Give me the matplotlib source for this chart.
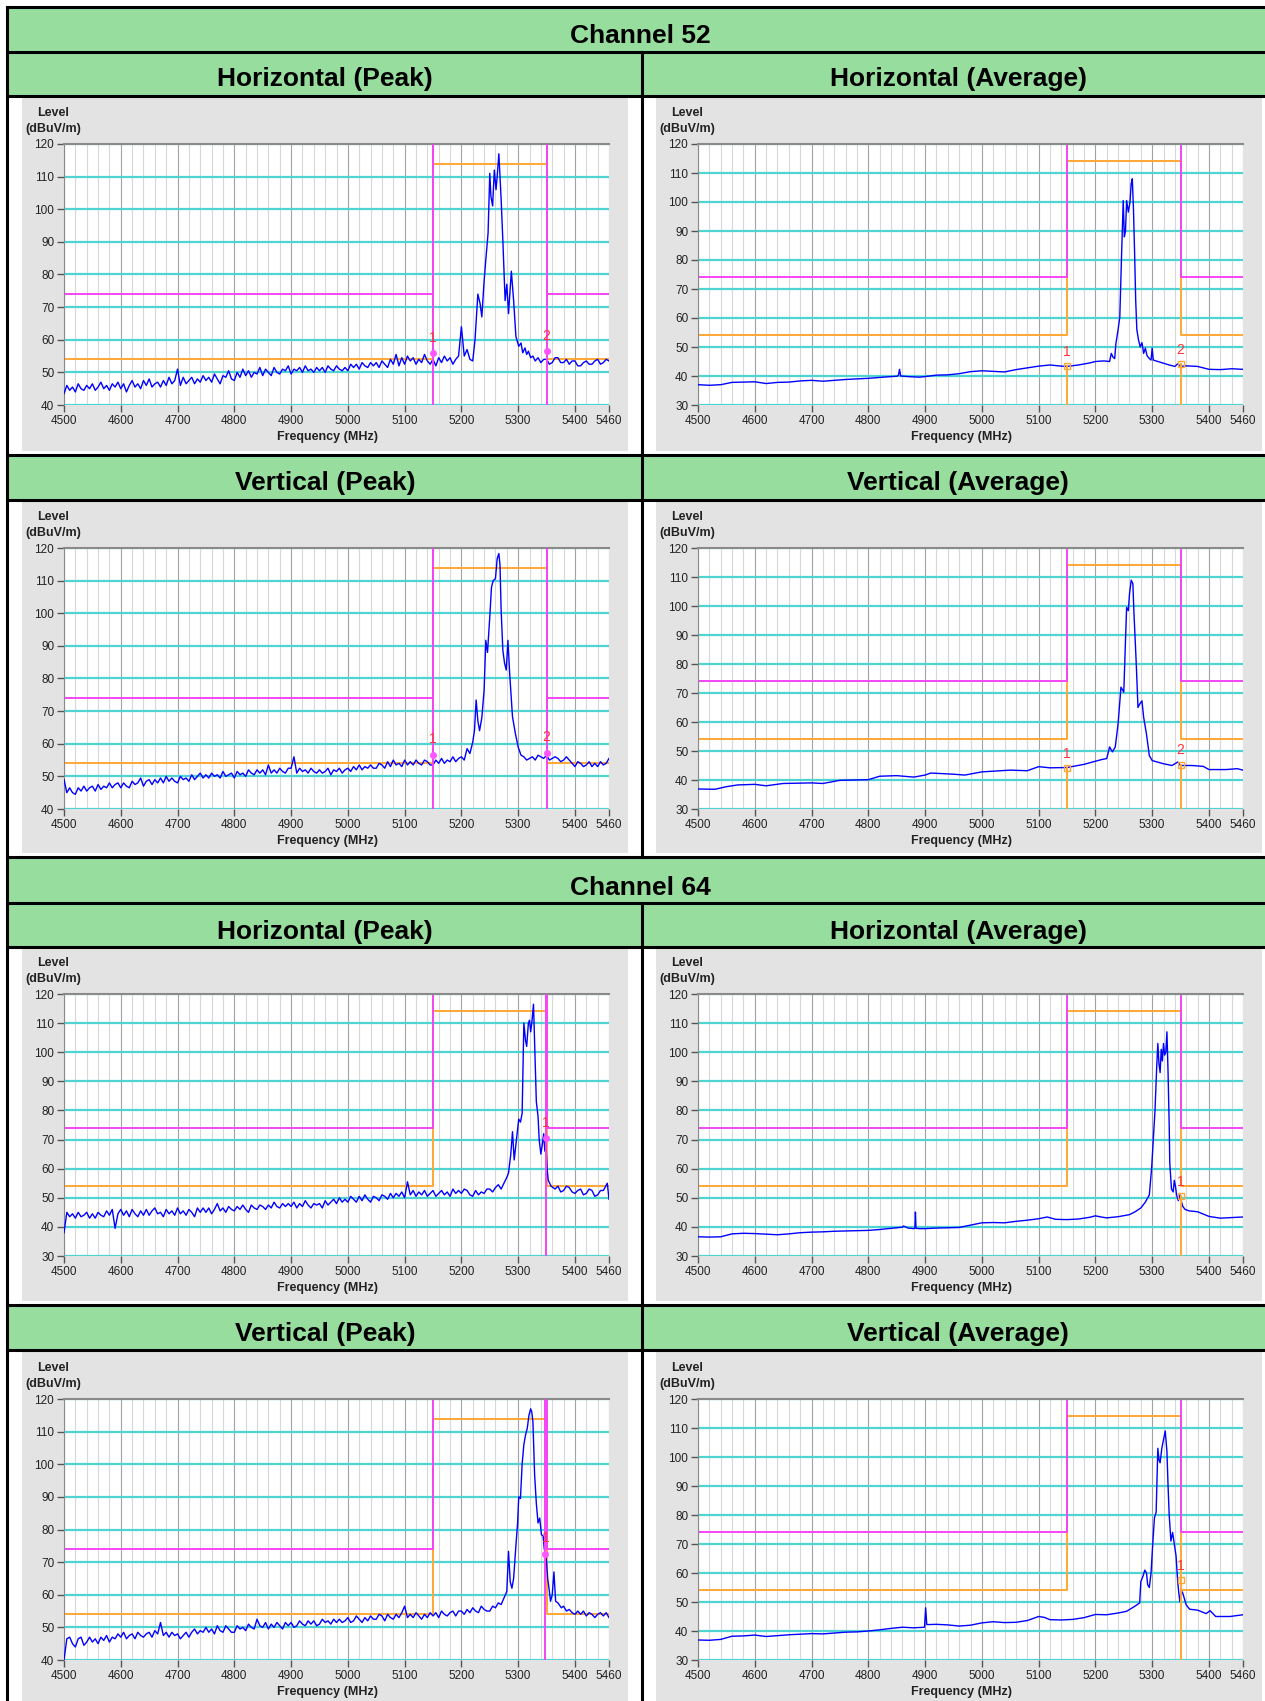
import matplotlib.pyplot as plt
from matplotlib.patches import Rectangle

plt.rcParams['font.family'] = ['Liberation Sans', 'DejaVu Sans']

W, H = 1265, 1701

# baseline of the peak sweeps is read every 5 MHz, the emission itself finer
base_f = list(range(4500, 5200, 5))

# Channel 52, horizontal, peak detector
ch52_h_pk_f = base_f + [5200, 5205, 5210, 5215, 5220, 5224, 5229, 5233, 5236, 5240, 5243, 5247, 5250, 5252,
                        5255, 5258, 5261, 5263, 5266, 5268, 5270, 5273, 5277, 5280, 5283, 5288, 5292, 5296,
                        5301, 5305, 5308, 5312, 5315, 5318, 5322, 5326, 5330, 5335, 5340, 5345, 5350, 5355,
                        5360, 5365, 5370, 5375, 5380, 5385, 5390, 5395, 5400, 5405, 5410, 5415, 5420, 5425,
                        5430, 5435, 5440, 5445, 5450, 5455, 5460]
ch52_h_pk_l = [43.5, 46, 44.5, 45.5, 44, 46.5, 45, 44.5, 46, 45,
               46.5, 44.5, 45.5, 47, 45, 46, 44.5, 46.5, 45.5, 47,
               45, 46.5, 44, 46, 47.5, 45.5, 46.5, 45, 47.5, 46,
               48, 45.5, 46.5, 47, 45.5, 47.5, 46, 48.5, 46.5, 47.5,
               51, 46, 48.5, 46.5, 47.5, 48.5, 46.5, 48, 47, 49,
               47.5, 48.5, 47, 49.5, 48, 46.5, 49, 48.5, 50.5, 48,
               47.5, 50, 48.5, 51, 49, 50.5, 48.5, 50, 49.5, 51.5,
               49, 51, 50, 49, 51.5, 50, 49.5, 51, 50.5, 52,
               49.5, 51, 50.5, 51.5, 50, 52, 50.5, 51, 50, 51.5,
               50.5, 51.5, 50, 52, 51, 50.5, 52, 51, 50.5, 51.5,
               50.5, 52.5, 51.5, 52.5, 51, 53, 52, 51.5, 53, 52,
               53, 51.5, 53.5, 52.5, 51.5, 54, 52.5, 55.5, 52, 54.5,
               52.5, 55, 53.5, 54.5, 52.5, 54, 53, 55.5, 53.5, 52.5,
               54, 52, 54.5, 53, 55, 53.5, 54.5, 52.5, 54, 55,
               64, 55, 57, 54, 53.5, 60, 74, 71, 67, 78, 84.5, 92.7, 111, 104,
               101, 112, 106, 110, 117, 110, 103, 90.5, 72, 77, 68, 81, 72, 61,
               58, 59, 56, 57.5, 55.5, 56.5, 54.5, 55, 53.5, 54.5, 53, 54, 54, 52.5,
               53, 54.5, 54.5, 53, 53, 54, 52.5, 53.5, 53.5, 52, 52, 53,
               53.5, 52.5, 52.5, 53.5, 54, 52.5, 53, 54, 53.5]

# Channel 52, horizontal, average detector
ch52_h_av_f = [4500, 4520, 4540, 4560, 4580, 4600, 4620, 4640, 4660, 4680, 4700, 4720, 4740, 4760, 4780, 4800,
               4820, 4840, 4850, 4853, 4855, 4857, 4870, 4890, 4900, 4920, 4940, 4960, 4980, 5000, 5020, 5040,
               5060, 5080, 5100, 5120, 5140, 5150, 5170, 5190, 5200, 5215, 5225, 5228, 5231, 5234, 5236, 5240,
               5243, 5246, 5249, 5251, 5253, 5255, 5258, 5261, 5263, 5265, 5267, 5269, 5271, 5273, 5276, 5279,
               5282, 5285, 5288, 5291, 5295, 5298, 5300, 5302, 5310, 5320, 5330, 5340, 5345, 5350, 5360, 5380,
               5400, 5420, 5440, 5460]
ch52_h_av_l = [37, 36.8, 37, 37.8, 37.9, 38, 37.4, 37.8, 37.9, 38.3, 38.5, 38.2, 38.5, 38.8, 39.0, 39.2,
               39.5, 39.8, 39.9, 40.2, 42.3, 40.0, 39.8, 39.6, 39.8, 40.3, 40.4, 40.8, 41.5, 41.8, 41.6, 41.4,
               42.2, 42.8, 43.4, 43.8, 43.4, 43.3, 43.8, 44.5, 45, 45.2, 45, 47.8, 46.5, 46, 51, 56,
               60.4, 81, 100.5, 88, 90, 100.5, 96.5, 100, 106.3, 108, 98, 83, 66, 56, 52.4, 50,
               51.5, 47.8, 49.6, 47, 46, 45.5, 49.6, 45.5, 45, 44.4, 43.8, 43.3, 44.2, 43.3, 43.5, 43.3,
               42.3, 42.2, 42.5, 42.3]

# Channel 52, vertical, peak detector
ch52_v_pk_f = base_f + [5200, 5205, 5210, 5215, 5220, 5223, 5226, 5229, 5232, 5236, 5240, 5243, 5246, 5250,
                        5253, 5256, 5260, 5263, 5266, 5268, 5270, 5273, 5276, 5279, 5282, 5285, 5290, 5295,
                        5300, 5305, 5310, 5315, 5320, 5325, 5330, 5335, 5340, 5345, 5350, 5355, 5360, 5365,
                        5370, 5375, 5380, 5385, 5390, 5395, 5400, 5405, 5410, 5415, 5420, 5425, 5430, 5435,
                        5440, 5445, 5450, 5455, 5460]
ch52_v_pk_l = [49, 45, 46.5, 45, 44.5, 46.5, 45.5, 47, 45.5, 46.5,
               47, 45.5, 47.5, 46, 47, 46.5, 48, 46.5, 47.5, 48,
               46.5, 48, 47, 46.5, 48.5, 47.5, 48, 49.5, 47, 48.5,
               49, 47.5, 49, 48, 49.5, 48, 50, 48.5, 49.5, 48.5,
               48, 50, 49, 49.5, 48.5, 50.5, 49, 50, 51, 49.5,
               50.5, 49.5, 51, 50, 50.5, 49.5, 51.5, 50, 50.5, 51,
               49.5, 51.5, 50.5, 51, 50, 52, 51, 50.5, 52, 51,
               52, 50.5, 53.5, 51, 52, 51, 52.5, 51.5, 51, 52.5,
               52.5, 56, 51, 52.5, 51.5, 52, 51, 52.5, 51.5, 51,
               52, 51, 51.5, 52.5, 50.5, 52, 51.5, 52.5, 51, 52,
               52.5, 51.5, 53, 52, 53.5, 52, 53, 52.5, 53.5, 52.5,
               52.5, 54, 53.5, 52.5, 54.5, 53, 55, 53.5, 54, 53,
               55, 53.5, 54.5, 53.5, 55, 54, 53.5, 55, 54.5, 53.5,
               53.5, 55, 54, 55.5, 54, 55, 54.5, 56, 54.5, 55.5,
               56, 55, 58.5, 57, 60.5, 64, 73.4, 67, 64, 68, 76.4, 91.7, 88, 98.9,
               108, 110, 110.6, 116.7, 118.3, 114.7, 101, 88.7, 84.7, 82.6, 91.7, 81.6, 68.3, 63.2,
               59, 56.5, 56, 55, 55.5, 56, 55, 56.5, 56, 55.5, 56.5, 55, 55.5, 56,
               55.5, 54.5, 55, 56, 55, 54, 53, 54.5, 54, 53, 53.5, 54.5, 53, 54,
               53, 54.5, 53.5, 54, 55.5]

# Channel 52, vertical, average detector
ch52_v_av_f = [4500, 4530, 4550, 4570, 4600, 4620, 4650, 4700, 4720, 4750, 4800, 4820, 4850, 4880, 4900, 4910,
               4950, 4970, 5000, 5050, 5080, 5100, 5120, 5150, 5180, 5210, 5220, 5225, 5230, 5235, 5240, 5245,
               5250, 5253, 5255, 5258, 5260, 5263, 5266, 5268, 5272, 5275, 5278, 5282, 5285, 5290, 5295, 5300,
               5320, 5335, 5345, 5350, 5370, 5390, 5400, 5430, 5450, 5460]
ch52_v_av_l = [36.9, 36.8, 37.7, 38.3, 38.5, 38, 38.8, 39, 38.8, 39.9, 40.1, 41.3, 41.5, 41, 41.7, 42.4,
               42, 41.7, 42.8, 43.4, 43.2, 44.6, 44.2, 44.3, 45.4, 47, 47.4, 51.4, 49.7, 51.4, 59.4, 72,
               70.3, 88, 99.5, 98.4, 104, 108.9, 107.7, 97.2, 80, 65, 66.2, 67.3, 61.6, 55.8, 48.4, 46.7,
               45.6, 45, 46.2, 45, 45, 44.7, 43.6, 43.6, 43.9, 43.4]

# Channel 64, horizontal, peak detector
ch64_h_pk_f = base_f + [5200, 5205, 5210, 5215, 5220, 5225, 5230, 5235, 5240, 5245, 5250, 5255, 5260, 5265,
                        5270, 5275, 5280, 5283, 5287, 5290, 5293, 5297, 5301, 5304, 5307, 5310, 5313, 5315,
                        5318, 5320, 5322, 5324, 5327, 5329, 5332, 5335, 5337, 5340, 5343, 5345, 5347, 5349,
                        5351, 5353, 5358, 5365, 5370, 5375, 5380, 5385, 5390, 5395, 5400, 5405, 5410, 5415,
                        5420, 5425, 5430, 5435, 5440, 5445, 5450, 5457, 5460]
ch64_h_pk_l = [38, 45, 43.5, 44.5, 43, 45, 43.5, 44, 45, 43,
               44.5, 43, 45, 44, 43.5, 45.5, 44, 46, 39.5, 44.5,
               46, 44, 45.5, 43.5, 46, 44.5, 43.5, 45.5, 44, 46,
               44, 45.5, 46.5, 44.5, 45, 43.5, 46, 44.5, 45.5, 44,
               46.5, 44.5, 45.5, 44, 46, 45, 43.5, 46.5, 45, 46.5,
               45, 46.5, 44.5, 46, 48, 45.5, 46.5, 45, 47, 46,
               45.5, 47, 46, 47.5, 46, 45, 47.5, 46.5, 46, 47.5,
               47, 46, 47.5, 46.5, 48.5, 47, 46.5, 48, 47, 48,
               47, 48.5, 46.5, 48, 47, 49, 47.5, 46.5, 48, 47.5,
               48, 46.5, 49, 47.5, 48.5, 49.5, 48, 50, 48.5, 49.5,
               48.5, 50.5, 49.5, 48.5, 50.5, 49, 51, 49.5, 48.5, 50.5,
               50, 49, 51, 50.5, 49.5, 51.5, 50, 51.5, 50.5, 52,
               50, 55.5, 51, 52.5, 50.5, 52, 51, 52.5, 50.5, 51.5,
               52.5, 50.5, 51.5, 52.5, 51, 52, 50.5, 53, 51.5, 52.5,
               51.5, 53, 52.5, 51, 50.5, 52.5, 51, 52, 51.5, 53, 53, 52, 53.5, 54.5,
               53, 55, 57, 58.5, 65, 72.7, 63, 70, 77, 76, 79, 110, 104, 102,
               110, 111, 107, 110, 116.5, 103, 83, 78, 70, 65, 69, 72, 66, 68,
               60, 56, 54, 53, 54, 52, 52.5, 54, 53.5, 52, 51.5, 52.5, 53, 51,
               51.5, 53, 52.5, 50.5, 51, 52.5, 52.5, 55, 49.5]

# Channel 64, horizontal, average detector
ch64_h_av_f = [4500, 4520, 4540, 4560, 4580, 4600, 4620, 4640, 4660, 4680, 4700, 4720, 4740, 4760, 4780, 4800,
               4820, 4840, 4860, 4862, 4870, 4880, 4882, 4883, 4884, 4890, 4900, 4920, 4940, 4960, 4980, 5000,
               5020, 5040, 5060, 5080, 5100, 5115, 5130, 5150, 5170, 5190, 5200, 5210, 5220, 5240, 5260, 5270,
               5280, 5288, 5295, 5299, 5302, 5305, 5308, 5310, 5312, 5314, 5316, 5318, 5320, 5322, 5324, 5326,
               5328, 5330, 5331, 5334, 5337, 5339, 5341, 5343, 5346, 5349, 5351, 5354, 5358, 5365, 5380, 5400,
               5420, 5440, 5460]
ch64_h_av_l = [36.6, 36.5, 36.6, 37.6, 37.8, 37.7, 37.5, 37.3, 37.6, 38, 38.2, 38.3, 38.5, 38.6, 38.7, 38.8,
               39.1, 39.5, 39.9, 40.3, 39.6, 39.4, 39.6, 45.1, 39.5, 39.4, 39.4, 39.6, 39.7, 39.8, 40.6, 41.4,
               41.5, 41.4, 41.9, 42.3, 42.8, 43.4, 42.6, 42.5, 42.7, 43.3, 43.8, 43.4, 43.1, 43.5, 44.2, 45.2,
               46.5, 48.5, 51, 60, 70, 80, 95, 103, 96, 93, 101, 97, 103, 99, 100, 107,
               93, 75, 62, 53, 52, 56, 54, 51, 49, 51, 49, 47, 46, 45.5, 45.2, 43.6,
               43, 43.2, 43.4]

# Channel 64, vertical, peak detector
ch64_v_pk_f = base_f + [5200, 5205, 5210, 5215, 5220, 5225, 5230, 5235, 5240, 5245, 5250, 5255, 5260, 5265,
                        5270, 5275, 5280, 5283, 5286, 5289, 5292, 5296, 5299, 5301, 5304, 5307, 5310, 5313,
                        5316, 5319, 5322, 5324, 5326, 5329, 5332, 5335, 5338, 5341, 5344, 5346, 5348, 5350,
                        5352, 5355, 5357, 5360, 5363, 5366, 5370, 5376, 5380, 5385, 5390, 5395, 5400, 5405,
                        5410, 5415, 5420, 5425, 5430, 5435, 5440, 5445, 5450, 5455, 5460]
ch64_v_pk_l = [40, 46.5, 47, 45, 44, 46.5, 47, 44.5, 45.5, 47,
               45.5, 46.5, 45, 47, 46, 47.5, 45.5, 47, 46.5, 48,
               47, 48.5, 46.5, 47.5, 48, 46.5, 48.5, 47.5, 47, 48,
               48.5, 47, 49, 48, 51.5, 47.5, 48.5, 47, 48.5, 47.5,
               48, 46.5, 47.5, 48.5, 47, 48.5, 49.5, 48, 49, 48.5,
               50, 48.5, 49.5, 48, 50.5, 49, 48.5, 50.5, 49.5, 48.5,
               48.5, 50.5, 49.5, 50, 49, 51, 50, 49.5, 52.5, 50.5,
               50, 51.5, 49.5, 51, 50, 51.5, 50.5, 49.5, 51.5, 50.5,
               51.5, 50, 50.5, 52, 51, 50.5, 52, 51, 52, 50.5,
               51, 52.5, 51.5, 52, 51, 52.5, 51.5, 52.5, 51.5, 52,
               53, 51.5, 52, 53.5, 52.5, 51.5, 53, 52, 53.5, 52.5,
               52.5, 54, 53.5, 52, 54, 53, 52.5, 54, 53, 54.5,
               56.5, 53, 54, 53, 54.5, 53.5, 52.5, 54, 53, 54.5,
               53.5, 54.5, 53, 55, 54, 53.5, 54.5, 55, 53.5, 55,
               55, 54, 55.5, 54.5, 56, 55, 54.5, 56.5, 55.5, 55, 55, 56.5, 56, 57.5,
               57, 59, 61, 73.3, 64, 62, 65, 75, 82, 90, 89.5, 100, 106, 109,
               111, 115, 117, 116, 113, 96.7, 88, 82, 83.5, 78.4, 78, 74, 73, 70,
               65, 61, 58, 60, 67, 58, 57.5, 56, 56.5, 55, 55.5, 54.5, 54, 55,
               54, 55, 53.5, 54.5, 54, 53, 54, 54.5, 53.5, 54.5, 53]

# Channel 64, vertical, average detector
ch64_v_av_f = [4500, 4520, 4540, 4560, 4580, 4600, 4620, 4640, 4660, 4680, 4700, 4720, 4740, 4760, 4780, 4800,
               4820, 4840, 4860, 4880, 4899, 4901, 4903, 4920, 4940, 4960, 4980, 5000, 5020, 5040, 5060, 5080,
               5100, 5110, 5120, 5140, 5160, 5180, 5200, 5220, 5240, 5255, 5270, 5278, 5280, 5284, 5287, 5290,
               5292, 5295, 5298, 5301, 5304, 5307, 5310, 5312, 5314, 5317, 5320, 5323, 5326, 5328, 5330, 5333,
               5336, 5339, 5342, 5345, 5347, 5349, 5351, 5354, 5357, 5360, 5366, 5380, 5395, 5402, 5412, 5437,
               5460]
ch64_v_av_l = [36.9, 36.8, 37.1, 38.2, 38.3, 38.6, 38.1, 38.4, 38.7, 38.9, 39.1, 39.0, 39.3, 39.6, 39.7, 40,
               40.4, 40.9, 41.3, 41.1, 41.3, 48, 42.2, 42.3, 42.1, 41.7, 42, 42.8, 43.2, 42.9, 43, 43.6,
               45, 44.7, 43.9, 43.8, 44, 44.6, 45.7, 45.6, 46.2, 46.8, 48.6, 49.7, 57, 59, 61, 60,
               56, 55, 60, 70, 79, 81, 103, 99, 98, 103, 106, 109, 102, 90, 80, 71,
               74, 70, 66, 57, 53, 50, 54, 53, 51, 49, 47.5, 47.2, 46, 47, 45, 45,
               45.6]

x_ticks = [4500, 4600, 4700, 4800, 4900, 5000, 5100, 5200, 5300, 5400, 5460]

GREEN = '#97dd9e'
PANEL = '#e3e3e3'
CYAN = '#4fd3d3'
MAGENTA = '#f444f4'
ORANGE = '#ffa733'
BLUE = '#0000ff'


def frac(x0, y0, x1, y1):
    return [x0 / W, 1 - y1 / H, (x1 - x0) / W, (y1 - y0) / H]


fig = plt.figure(figsize=(W / 100, H / 100), dpi=100)
bg = fig.add_axes([0, 0, 1, 1])
bg.set_xlim(0, W)
bg.set_ylim(H, 0)
bg.axis('off')

# header bars
for top, bottom in [(7, 52), (52, 96), (455, 500), (857, 903), (903, 947), (1305, 1350)]:
    bg.add_patch(Rectangle((7, top), W - 7, bottom - top, facecolor=GREEN, edgecolor='none', zorder=0))

bg.text(640, 36, 'Channel 52', ha='center', va='center', fontsize=19, fontweight='bold')
bg.text(640, 888, 'Channel 64', ha='center', va='center', fontsize=19, fontweight='bold')
for ytxt in [79, 483, 932, 1334]:
    top_row = ytxt < 400 or 900 < ytxt < 1000
    kind = 'Horizontal' if top_row else 'Vertical'
    bg.text(325, ytxt, kind + ' (Peak)', ha='center', va='center', fontsize=19, fontweight='bold')
    bg.text(958, ytxt, kind + ' (Average)', ha='center', va='center', fontsize=19, fontweight='bold')

# table rules
for y in [7, 52, 96, 455, 500, 857, 903, 947, 1305, 1350]:
    bg.plot([7, W], [y, y], color='black', lw=2.2, zorder=5)
bg.plot([7, 7], [7, H], color='black', lw=2.2, zorder=5)
bg.plot([642, 642], [52, 857], color='black', lw=2.2, zorder=5)
bg.plot([642, 642], [903, H], color='black', lw=2.2, zorder=5)


def draw_chart(col, row_top, row_bottom, ax_top, ax_bottom, freqs, levels, ymin, kind, markers):
    if col == 0:
        px0, px1, ax0, ax1 = 22, 628, 64, 609
    else:
        px0, px1, ax0, ax1 = 656, 1262, 698, 1243
    bg.add_patch(Rectangle((px0, row_top + 2), px1 - px0, row_bottom - row_top - 6,
                           facecolor=PANEL, edgecolor='none', zorder=1))
    bg.text(ax0 - 11, ax_top - 31, 'Level', ha='center', va='center', fontsize=9, fontweight='bold', color='#222222')
    bg.text(ax0 - 11, ax_top - 15, '(dBuV/m)', ha='center', va='center', fontsize=9, fontweight='bold', color='#222222')
    bg.text((ax0 + ax1) / 2 - 9, ax_bottom + 32, 'Frequency (MHz)', ha='center', va='center',
            fontsize=9, fontweight='bold', color='#222222')

    ax = fig.add_axes(frac(ax0, ax_top, ax1, ax_bottom))
    ax.set_facecolor('white')
    ax.set_xlim(4500, 5460)
    ax.set_ylim(ymin, 120)
    ax.set_xticks(x_ticks)
    ax.set_xticks(range(4520, 5460, 20), minor=True)
    ax.set_yticks(range(ymin, 121, 10))
    ax.grid(axis='x', which='minor', color='#d8d8d8', lw=0.8)
    ax.grid(axis='x', which='major', color='#a3a3a3', lw=0.8)
    ax.grid(axis='y', which='major', color=CYAN, lw=1.6)
    ax.set_axisbelow(True)
    ax.tick_params(which='minor', length=0)
    ax.tick_params(which='major', length=5, width=1, color='#555555', labelsize=8.5, pad=2,
                   labelcolor='#222222')
    for side in ['bottom', 'right']:
        ax.spines[side].set_visible(False)
    ax.spines['top'].set_color('#8a8a8a')
    ax.spines['top'].set_linewidth(1.5)
    ax.spines['left'].set_color('#8a8a8a')

    # limit lines
    ax.plot([4500, 5150, 5150, 5350, 5350, 5460], [54, 54, 114, 114, 54, 54], color=ORANGE, lw=1.4, zorder=2)
    ax.plot([4500, 5150, 5150], [74, 74, 120], color=MAGENTA, lw=1.4, zorder=2.5)
    ax.plot([5350, 5350, 5460], [120, 74, 74], color=MAGENTA, lw=1.4, zorder=2.5)

    ax.plot(freqs, levels, color=BLUE, lw=1.0, zorder=3)

    for i, (mf, ml) in enumerate(markers):
        if kind == 'peak':
            ax.axvline(mf, color=MAGENTA, lw=1.4, zorder=4)
            ax.plot(mf, ml, 'o', color='#ff55ff', ms=4, zorder=5)
        else:
            ax.plot([mf, mf], [ymin, ml], color=ORANGE, lw=1.4, zorder=4)
            ax.plot(mf, ml, 's', mfc='none', mec=ORANGE, ms=4, mew=1, zorder=5)
        ax.text(mf, ml + 2.5, str(i + 1), color='#ff3333', ha='center', va='bottom', fontsize=10, zorder=6)
    return ax


draw_chart(0, 96, 455, 144, 405, ch52_h_pk_f, ch52_h_pk_l, 40, 'peak', [(5150, 56), (5350, 56.5)])
draw_chart(1, 96, 455, 144, 405, ch52_h_av_f, ch52_h_av_l, 30, 'avg', [(5150, 43.5), (5350, 44)])
draw_chart(0, 500, 857, 548, 809, ch52_v_pk_f, ch52_v_pk_l, 40, 'peak', [(5150, 56.7), (5350, 57.3)])
draw_chart(1, 500, 857, 548, 809, ch52_v_av_f, ch52_v_av_l, 30, 'avg', [(5150, 44.2), (5350, 45.3)])
draw_chart(0, 947, 1305, 994, 1256, ch64_h_pk_f, ch64_h_pk_l, 30, 'peak', [(5349, 70.7)])
draw_chart(1, 947, 1305, 994, 1256, ch64_h_av_f, ch64_h_av_l, 30, 'avg', [(5350, 50.5)])
draw_chart(0, 1350, H + 10, 1399, 1660, ch64_v_pk_f, ch64_v_pk_l, 40, 'peak', [(5348, 72.6)])
draw_chart(1, 1350, H + 10, 1399, 1660, ch64_v_av_f, ch64_v_av_l, 30, 'avg', [(5350, 57.5)])

fig.savefig('out.png', dpi=100)
